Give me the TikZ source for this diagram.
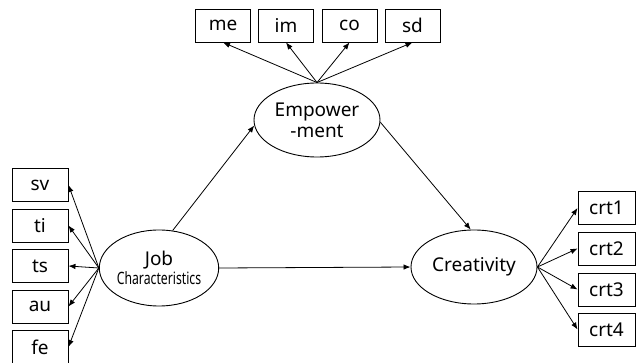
\documentclass[tikz,border=0pt]{standalone}
\usepackage{fontspec}
\usepackage{graphicx}
\setmainfont{Noto Sans}
\usetikzlibrary{arrows.meta,shapes.geometric}
\begin{document}
\begin{tikzpicture}[x=1pt,y=-1pt,
  box/.style={draw, line width=0.9pt, minimum width=56pt, minimum height=33pt, inner sep=0pt,
    font=\fontsize{19}{19}\selectfont},
  lat/.style={draw, ellipse, line width=0.9pt, inner sep=0pt, align=center,
    font=\fontsize{19}{21}\selectfont},
  arr/.style={-{Latex[length=7pt,width=5.5pt]}, line width=0.8pt}]
\useasboundingbox (0,0) rectangle (638,363);

% latent variables
\node[lat, minimum width=104pt, minimum height=76pt] (job) at (159,268)
  {Job\\[-2pt]{\fontsize{17}{17}\selectfont\scalebox{0.72}[1]{Characteristics}}};
\node[lat, minimum width=126pt, minimum height=74pt] (emp) at (317,120)
  {Empower\\-ment};
\node[lat, minimum width=126pt, minimum height=74pt] (cre) at (474,267)
  {Creativity};

% left indicators
\node[box] (sv) at (40,185) {sv};
\node[box] (ti) at (40,225.5) {ti};
\node[box] (ts) at (40,266) {ts};
\node[box] (au) at (40,306.5) {au};
\node[box] (fe) at (40,347) {fe};

% top indicators
\node[box, minimum width=55pt] (me) at (223,25.5) {me};
\node[box, minimum width=55pt] (im) at (286,25.5) {im};
\node[box, minimum width=55pt] (co) at (349.5,25.5) {co};
\node[box, minimum width=55pt] (sd) at (412.5,25.5) {sd};

% right indicators
\node[box, minimum width=57pt] (c1) at (606.5,208) {crt1};
\node[box, minimum width=57pt] (c2) at (606.5,248.5) {crt2};
\node[box, minimum width=57pt] (c3) at (606.5,289.5) {crt3};
\node[box, minimum width=57pt] (c4) at (606.5,329.5) {crt4};

% loadings
\foreach \b in {sv,ti,ts,au,fe} \draw[arr] (job.west) -- (\b.east);
\foreach \b in {me,im,co,sd} \draw[arr] (emp.north) -- (\b.south);
\foreach \b in {c1,c2,c3,c4} \draw[arr] (cre.east) -- (\b.west);

% structural paths
\draw[arr] (job.70) -- (emp.185);
\draw[arr] (emp.358) -- (cre.95);
\draw[arr] (job.east) -- (cre.west);
\end{tikzpicture}
\end{document}
